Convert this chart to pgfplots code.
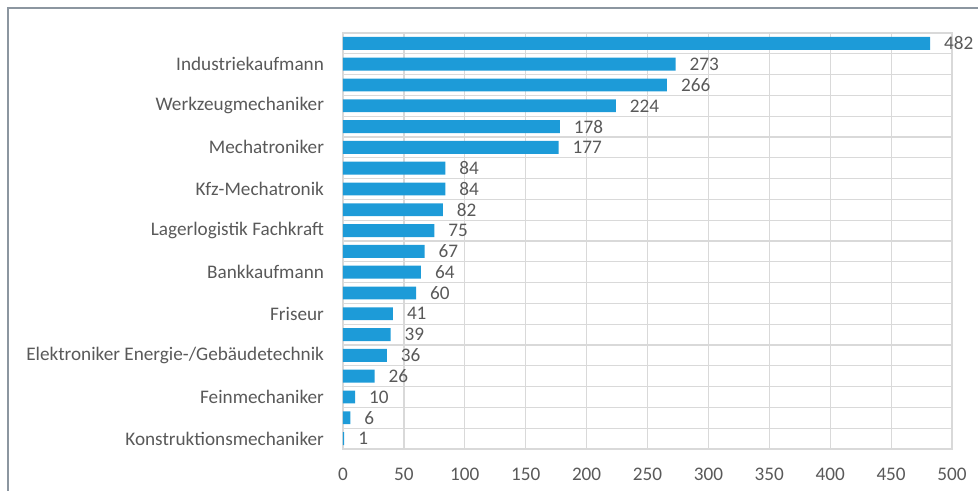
\documentclass[border=0pt]{standalone}
\usepackage{pgfplots}
\pgfplotsset{compat=1.18}
\usepackage{fontspec}
\setmainfont{Carlito}
\definecolor{barblue}{RGB}{29,155,216}
\definecolor{gridgray}{RGB}{217,217,217}
\definecolor{txtgray}{RGB}{89,89,89}
\definecolor{framegray}{RGB}{140,150,160}
\begin{document}
\begin{tikzpicture}
\useasboundingbox (-171.5pt,-21pt) rectangle (317.5pt,224.5pt);
\draw[framegray, line width=0.8pt] (-167.5pt,-21pt) -- (-167.5pt,220.5pt) -- (317.5pt,220.5pt);
\begin{axis}[
  at={(0pt,0pt)}, anchor=south west,
  scale only axis,
  width=304.5pt, height=208pt,
  xbar, bar width=0.62,
  xmin=0, xmax=500,
  ymin=-0.5, ymax=19.5,
  xtick={0,50,...,500},
  ytick={0,2,...,18},
  yticklabels={Konstruktionsmechaniker,Feinmechaniker,Elektroniker Energie-/Gebäudetechnik,Friseur,Bankkaufmann,Lagerlogistik Fachkraft,Kfz-Mechatronik,Mechatroniker,Werkzeugmechaniker,Industriekaufmann},
  minor ytick={-0.5,0.5,...,19.5},
  xmajorgrids, yminorgrids,
  grid style={gridgray, line width=0.6pt},
  minor grid style={gridgray, line width=0.6pt},
  axis line style={gridgray, line width=0.6pt},
  major tick length=0pt, minor tick length=0pt,
  tick style={draw=none},
  ticklabel style={font=\fontsize{9.6}{11}\selectfont, text=txtgray},
  /pgf/number format/assume math mode=true,
  xticklabel style={yshift=-6pt},
  yticklabel style={xshift=-6pt},
  nodes near coords,
  nodes near coords style={font=\fontsize{9.6}{11}\selectfont, text=txtgray, anchor=west, xshift=3.5pt},
  every node near coord/.append style={/pgf/number format/assume math mode=true},
]
\addplot[fill=barblue, draw=none] coordinates {
(1,0) (6,1) (10,2) (26,3) (36,4) (39,5) (41,6) (60,7) (64,8) (67,9)
(75,10) (82,11) (84,12) (84,13) (177,14) (178,15) (224,16) (266,17) (273,18) (482,19)
};
\end{axis}
\end{tikzpicture}
\end{document}
